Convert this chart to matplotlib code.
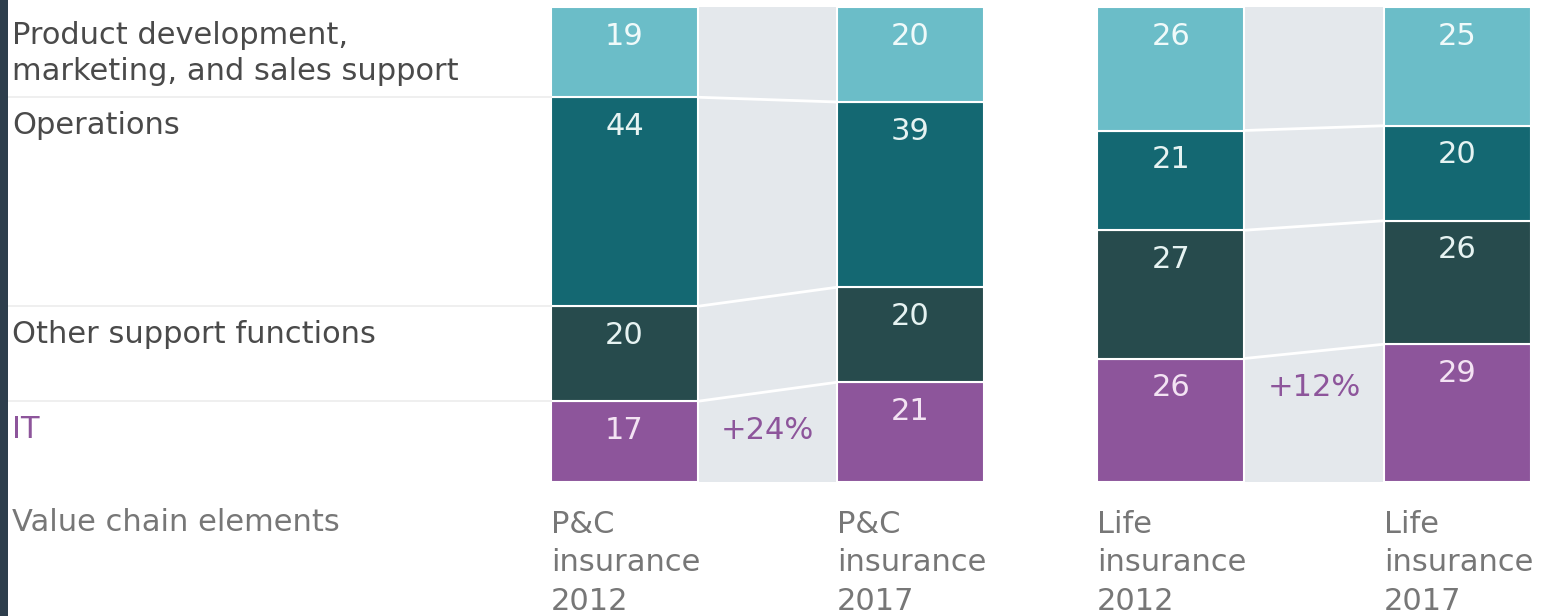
import matplotlib.pyplot as plt
import matplotlib.transforms as mtransforms
from matplotlib.patches import Rectangle
import numpy as np

plt.rcParams['font.family'] = ['DejaVu Sans']

# Данные
elements = ["IT", "Other support functions", "Operations",
            "Product development,\nmarketing, and sales support"]
pc_2012 = [17, 20, 44, 19]
pc_2017 = [21, 20, 39, 20]
life_2012 = [26, 27, 21, 26]
life_2017 = [29, 26, 20, 25]
bar_labels = ["P&C\ninsurance\n2012", "P&C\ninsurance\n2017",
              "Life\ninsurance\n2012", "Life\ninsurance\n2017"]
it_growth = ["+24%", "+12%"]

colors = ["#8d559b", "#274b4d", "#146872", "#6bbdc8"]
label_colors = ["#f3e3f3", "#e6f3f2", "#e6f3f2", "#f0fafa"]
gap_color = "#e4e8ec"
text_gray = "#4a4a4a"
muted_gray = "#777777"
purple_text = "#8d559b"
fs = 22

W, H = 1549, 616
fig = plt.figure(figsize=(W / 100, H / 100), dpi=100)
fig.patch.set_facecolor("white")

# тёмная полоса слева
fig.add_artist(Rectangle((0, 0), 8 / W, 1, transform=fig.transFigure,
                         facecolor="#2d3e4c", edgecolor="none"))

bw = 0.514
top_px, bot_px = 7, 482
ax_bottom = (H - bot_px) / H
ax_height = (bot_px - top_px) / H


def draw_pair(left_px, right_px, v1, v2, growth, names):
    ax = fig.add_axes([left_px / W, ax_bottom, (right_px - left_px) / W, ax_height])
    ax.set_xlim(-bw / 2, 1 + bw / 2)
    ax.set_ylim(0, 100)
    ax.axis("off")
    # серый промежуток
    ax.fill_between([bw / 2, 1 - bw / 2], 0, 100, color=gap_color, lw=0, zorder=0)
    for x, vals in [(0, v1), (1, v2)]:
        bottoms = np.concatenate([[0], np.cumsum(vals)[:-1]])
        ax.bar(x, vals, bottom=bottoms, width=bw, color=colors,
               edgecolor="white", linewidth=1.5, zorder=2)
        for i, (b, v) in enumerate(zip(bottoms, vals)):
            ax.annotate(str(v), (x, b + v), xytext=(0, -21), textcoords="offset points",
                        ha="center", va="center", fontsize=fs, color=label_colors[i],
                        zorder=3)
    # соединительные линии
    c1 = np.cumsum(v1)[:-1]
    c2 = np.cumsum(v2)[:-1]
    for a, b in zip(c1, c2):
        ax.plot([bw / 2, 1 - bw / 2], [a, b], color="white", lw=2, zorder=1)
    ax.annotate(growth, (0.5, v1[0]), xytext=(0, -21), textcoords="offset points",
                ha="center", va="center", fontsize=fs, color=purple_text)
    for x, name in zip([0, 1], names):
        ax.text(x - bw / 2, -0.058, name, transform=mtransforms.blended_transform_factory(
            ax.transData, ax.transAxes), ha="left", va="top", fontsize=fs,
            color=muted_gray, linespacing=1.42)
    return ax


ax1 = draw_pair(551, 984, pc_2012, pc_2017, it_growth[0], bar_labels[:2])
ax2 = draw_pair(1097, 1531, life_2012, life_2017, it_growth[1], bar_labels[2:])

# подписи элементов слева и тонкие линии
trans = mtransforms.blended_transform_factory(fig.transFigure, ax1.transData)
bottoms = np.concatenate([[0], np.cumsum(pc_2012)[:-1]])
for i, (name, b, v) in enumerate(zip(elements, bottoms, pc_2012)):
    top = b + v
    if top < 100:
        ax1.plot([5 / W, 551 / W], [top, top], transform=trans, color="#ececec",
                 lw=1.2, clip_on=False)
    ax1.annotate(name, (12 / W, top), xycoords=trans, xytext=(0, -10),
                 textcoords="offset points", ha="left", va="top", fontsize=fs,
                 color=purple_text if name == "IT" else text_gray, linespacing=1.3)

fig.text(12 / W, 1 - 508 / H, "Value chain elements", ha="left", va="top",
         fontsize=fs, color=muted_gray)

plt.savefig("out.png", dpi=100)
